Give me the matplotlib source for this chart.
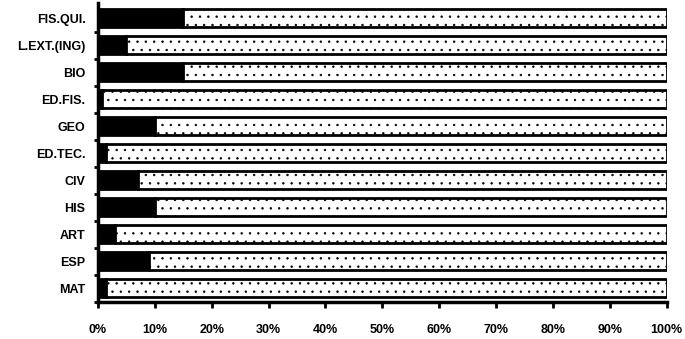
import matplotlib.pyplot as plt
from matplotlib.ticker import PercentFormatter

# =========================
# DATA
# =========================
materias = ["MAT", "ESP", "ART", "HIS", "CIV", "ED.TEC.", "GEO", "ED.FIS.", "BIO", "L.EXT.(ING)", "FIS.QUI."]
reprobados = [1.5, 9, 3, 10, 7, 1.5, 10, 0.7, 15, 5, 15]
aprobados = [100 - v for v in reprobados]
xticks = [0, 10, 20, 30, 40, 50, 60, 70, 80, 90, 100]

plt.rcParams["font.family"] = ["Liberation Sans", "DejaVu Sans"]
plt.rcParams["hatch.color"] = "#c4c4c4"
plt.rcParams["hatch.linewidth"] = 0.5

fig = plt.figure(figsize=(6.85, 3.39), dpi=100)
ax = fig.add_axes([0.143, 0.11, 0.830, 0.88])

pos = list(range(len(materias)))
ax.barh(pos, reprobados, height=0.68, color="black", edgecolor="black", linewidth=2)
ax.barh(pos, aprobados, left=reprobados, height=0.68, color="white",
        edgecolor="black", linewidth=2, hatch="..")

ax.set_xlim(0, 100)
ax.set_ylim(-0.42, 10.55)
ax.set_xticks(xticks)
ax.xaxis.set_major_formatter(PercentFormatter(decimals=0))
ax.set_yticks(pos)
ax.set_yticklabels(materias)
ax.set_yticks([p + 0.5 for p in pos[:-1]] + [-0.5], minor=True)

for lbl in ax.get_xticklabels() + ax.get_yticklabels():
    lbl.set_fontweight("bold")
    lbl.set_fontsize(9)

ax.tick_params(axis="x", length=4, width=2, pad=12)
ax.tick_params(axis="y", which="major", length=0, pad=9)
ax.tick_params(axis="y", which="minor", length=3, width=2)

for side in ["top", "right"]:
    ax.spines[side].set_visible(False)
ax.spines["left"].set_linewidth(2.5)
ax.spines["bottom"].set_linewidth(2.5)

fig.savefig("out.png", dpi=100, facecolor="white")
